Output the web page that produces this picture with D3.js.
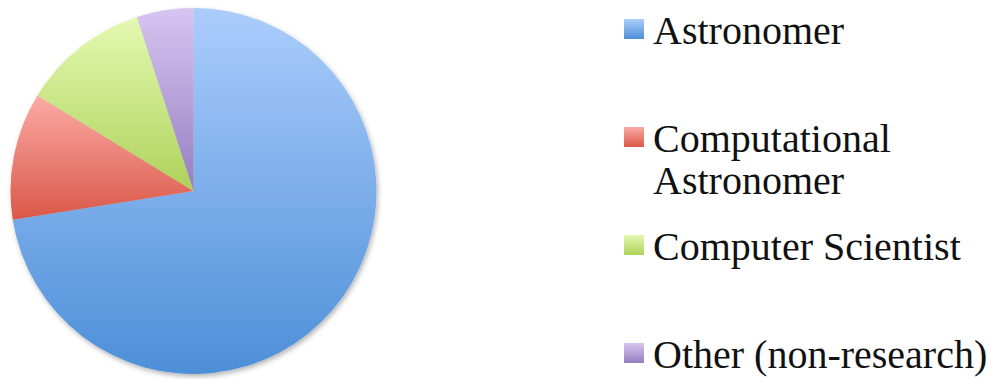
<!DOCTYPE html>
<html>
<head>
<meta charset="utf-8">
<script src="https://cdn.jsdelivr.net/npm/d3@7"></script>
<style>
  html, body { margin: 0; padding: 0; background: #fff; }
  svg { display: block; }
</style>
</head>
<body>
<svg id="chart" width="1000" height="379"></svg>
<script>
// Respondent roles
const categories = ["Astronomer", "Computational Astronomer", "Computer Scientist", "Other (non-research)"];
const counts = [58, 9, 9, 4];
const legendLines = [["Astronomer"], ["Computational", "Astronomer"], ["Computer Scientist"], ["Other (non-research)"]];
const topColors = ["#abcdfc", "#fbaba5", "#e4f9b1", "#d7c5f1"];
const bottomColors = ["#4d8fd8", "#da5748", "#aed25b", "#967ec1"];

const svg = d3.select("#chart");
const defs = svg.append("defs");

// vertical gradient per slice, spanning each shape's own bounding box
categories.forEach((c, i) => {
  const g = defs.append("linearGradient")
    .attr("id", "grad" + i)
    .attr("x1", 0).attr("y1", 0).attr("x2", 0).attr("y2", 1);
  g.append("stop").attr("offset", "0%").attr("stop-color", topColors[i]);
  g.append("stop").attr("offset", "100%").attr("stop-color", bottomColors[i]);
});

const shadow = defs.append("filter").attr("id", "shadow")
  .attr("x", "-10%").attr("y", "-10%").attr("width", "120%").attr("height", "120%");
shadow.append("feDropShadow")
  .attr("dx", 1.5).attr("dy", 2.5).attr("stdDeviation", 2.5)
  .attr("flood-color", "#000").attr("flood-opacity", 0.3);

const cx = 193.5, cy = 191, r = 183;

const pie = d3.pie().sort(null).value(d => d);
const arc = d3.arc().innerRadius(0).outerRadius(r);

const gPie = svg.append("g")
  .attr("transform", `translate(${cx},${cy})`)
  .attr("filter", "url(#shadow)");

gPie.selectAll("path")
  .data(pie(counts))
  .join("path")
  .attr("d", arc)
  .attr("fill", (d, i) => `url(#grad${i})`);

// Legend
const legendX = 624, swatch = 20;
const swatchTops = [19, 127, 235, 343];
const lineGap = 42;

const leg = svg.append("g");
categories.forEach((c, i) => {
  const row = leg.append("g");
  row.append("rect")
    .attr("x", legendX).attr("y", swatchTops[i])
    .attr("width", swatch).attr("height", swatch)
    .attr("fill", `url(#grad${i})`);
  const t = row.append("text")
    .attr("x", legendX + 29)
    .attr("y", swatchTops[i] + swatch + 5)
    .attr("font-family", "'Liberation Serif', 'DejaVu Serif', serif")
    .attr("font-size", 40)
    .attr("fill", "#111");
  legendLines[i].forEach((line, k) => {
    t.append("tspan")
      .attr("x", legendX + 29)
      .attr("dy", k === 0 ? 0 : lineGap)
      .text(line);
  });
});
</script>
</body>
</html>
